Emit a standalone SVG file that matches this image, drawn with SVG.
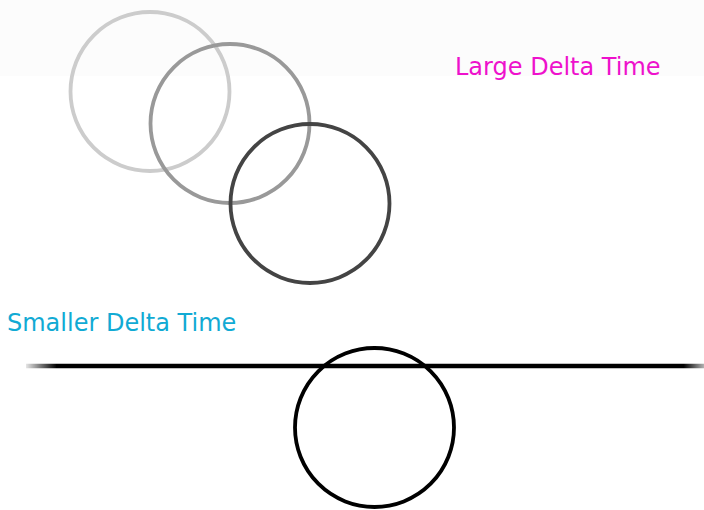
<svg xmlns="http://www.w3.org/2000/svg" width="704" height="510" viewBox="0 0 704 510">
<style>
.c{fill:none;stroke-width:3.8}
.t{font-family:"DejaVu Sans",sans-serif;font-size:24px}
</style>
<defs>
<linearGradient id="fade" x1="26" y1="0" x2="704" y2="0" gradientUnits="userSpaceOnUse">
<stop offset="0" stop-color="#000" stop-opacity="0.1"/>
<stop offset="0.045" stop-color="#000" stop-opacity="1"/>
<stop offset="0.97" stop-color="#000" stop-opacity="1"/>
<stop offset="1" stop-color="#000" stop-opacity="0.3"/>
</linearGradient>
</defs>
<rect x="0" y="0" width="704" height="510" fill="#fff"/>
<rect x="0" y="0" width="704" height="76" fill="#fcfcfc"/>
<g id="ground"><line x1="26" y1="366" x2="704" y2="366" stroke="url(#fade)" stroke-width="4.5"/></g>
<g id="circle1"><circle class="c" cx="150" cy="91.5" r="79.5" stroke="#cccccc"/></g>
<g id="circle2"><circle class="c" cx="230" cy="123.5" r="79.5" stroke="#999999"/></g>
<g id="circle3"><circle class="c" cx="310" cy="203.5" r="79.5" stroke="#444444"/></g>
<g id="circle4"><circle class="c" cx="374.5" cy="427.5" r="79.5" stroke="#000000"/></g>
<g id="label-large"><text class="t" x="455" y="75" fill="#ee11cc">Large Delta Time</text></g>
<g id="label-small"><text class="t" x="7" y="331" fill="#11aad4">Smaller Delta Time</text></g>
</svg>
